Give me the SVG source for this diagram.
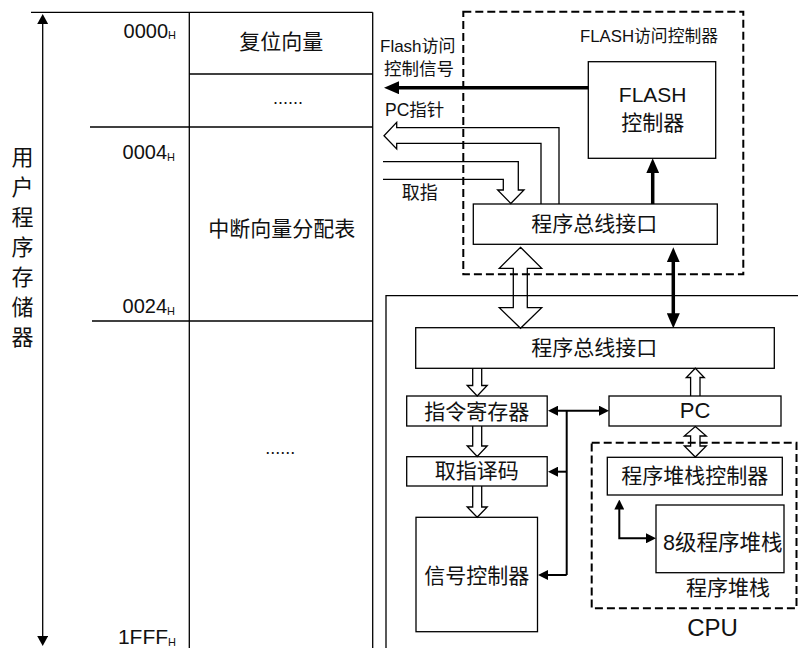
<svg xmlns="http://www.w3.org/2000/svg" width="798" height="648" viewBox="0 0 798 648">
<style>
text{font-family:"Liberation Sans","Noto Sans CJK SC",sans-serif;fill:#111}
.c{text-anchor:middle}
.e{text-anchor:end}
.ln{stroke:#000;stroke-width:1.3;fill:none}
.box{stroke:#000;stroke-width:1.3;fill:#fff}
.dash{stroke:#000;stroke-width:2;fill:none;stroke-dasharray:8 4}
.hol{stroke:#000;stroke-width:1.3;fill:none;stroke-linejoin:miter}
.thin{stroke:#000;stroke-width:2;fill:none}
.thick{stroke:#000;stroke-width:3.5;fill:none}
.f21{font-size:21px}
</style>
<defs>
<marker id="hs" viewBox="0 0 10 10" markerWidth="10" markerHeight="10" refX="2" refY="5" orient="auto-start-reverse" markerUnits="userSpaceOnUse"><path d="M0,0 L10,5 L0,10 Z" fill="#000"/></marker>
<marker id="hb" viewBox="0 0 15 13" markerWidth="15" markerHeight="13" refX="2" refY="6.5" orient="auto-start-reverse" markerUnits="userSpaceOnUse"><path d="M0,0 L15,6.5 L0,13 Z" fill="#000"/></marker>
<marker id="ha" viewBox="0 0 10 11" markerWidth="10" markerHeight="11" refX="2" refY="5.5" orient="auto-start-reverse" markerUnits="userSpaceOnUse"><path d="M0,0 L10,5.5 L0,11 Z" fill="#000"/></marker>
</defs>

<g id="memory">
<line class="ln" x1="31" y1="12.3" x2="372.7" y2="12.3"/>
<line class="ln" x1="189.3" y1="12.3" x2="189.3" y2="648"/>
<line class="ln" x1="372.7" y1="12.3" x2="372.7" y2="648"/>
<line class="ln" x1="189.3" y1="74" x2="372.7" y2="74"/>
<line class="ln" x1="90" y1="127" x2="372.7" y2="127"/>
<line class="ln" x1="92" y1="321" x2="372.7" y2="321"/>
<line class="ln" x1="42.7" y1="22" x2="42.7" y2="638" marker-start="url(#ha)" marker-end="url(#ha)"/>
<text class="e" x="176" y="37.5" font-size="20">0000<tspan font-size="11" dy="1.5">H</tspan></text>
<text class="e" x="175" y="159.3" font-size="20">0004<tspan font-size="11" dy="1.5">H</tspan></text>
<text class="e" x="175" y="313.3" font-size="20">0024<tspan font-size="11" dy="1.5">H</tspan></text>
<text class="e" x="176" y="644" font-size="21">1FFF<tspan font-size="11" dy="1.5">H</tspan></text>
<text class="c f21" x="281.3" y="48.5">复位向量</text>
<text class="c" x="288" y="104" font-size="18">......</text>
<text class="c f21" x="281.7" y="236">中断向量分配表</text>
<text class="c" x="280.3" y="453.5" font-size="18">......</text>
<g font-size="22" class="c">
<text class="c" x="22.5" y="165">用</text>
<text class="c" x="22.5" y="195">户</text>
<text class="c" x="22.5" y="225">程</text>
<text class="c" x="22.5" y="255">序</text>
<text class="c" x="22.5" y="285">存</text>
<text class="c" x="22.5" y="315">储</text>
<text class="c" x="22.5" y="345">器</text>
</g>
</g>

<g id="flash-access-controller">
<rect class="dash" x="463.3" y="11.7" width="280" height="262.6"/>
<text x="580" y="41.5" font-size="16.8">FLASH访问控制器</text>
</g>

<g id="flash-controller">
<rect class="box" x="588.3" y="61.7" width="127.4" height="96.6"/>
<text class="c f21" x="652.7" y="101.7">FLASH</text>
<text class="c f21" x="652.7" y="129.5">控制器</text>
</g>

<g id="bus-if-top">
<rect class="box" x="473.3" y="204" width="244" height="40.3"/>
<text class="c f21" x="594.2" y="230.5">程序总线接口</text>
</g>

<g id="cpu">
<path class="ln" d="M386,648 V295.7 H798"/>
<text class="c" x="712.5" y="636" font-size="24">CPU</text>
</g>

<g id="bus-if-cpu">
<rect class="box" x="415.7" y="327.7" width="358.6" height="40.6"/>
<text class="c f21" x="594.2" y="355">程序总线接口</text>
</g>

<g id="ir">
<rect class="box" x="406.7" y="396" width="140.5" height="30"/>
<text class="c f21" x="476.7" y="419">指令寄存器</text>
</g>

<g id="decode">
<rect class="box" x="406.7" y="456.7" width="140.5" height="29.3"/>
<text class="c f21" x="476.7" y="478">取指译码</text>
</g>

<g id="signal-ctrl">
<rect class="box" x="416" y="517.3" width="121.5" height="114.4"/>
<text class="c f21" x="476.7" y="582.5">信号控制器</text>
</g>

<g id="pc">
<rect class="box" x="609" y="396" width="172" height="30"/>
<text class="c" x="695" y="418.3" font-size="22">PC</text>
</g>

<g id="stack-group">
<rect class="dash" x="591.7" y="442.7" width="204.8" height="165.6"/>
<text class="c f21" x="728" y="595">程序堆栈</text>
</g>

<g id="stack-ctrl">
<rect class="box" x="607.3" y="457.3" width="175" height="37.7"/>
<text class="c f21" x="694.8" y="483">程序堆栈控制器</text>
</g>

<g id="stack8">
<rect class="box" x="656" y="505" width="128" height="67.7"/>
<text class="c" x="722.7" y="550" font-size="21.5">8级程序堆栈</text>
</g>

<g id="labels">
<text x="380" y="52" font-size="17">Flash访问</text>
<text x="384" y="75" font-size="17.5">控制信号</text>
<text x="385" y="116" font-size="17.5">PC指针</text>
<text x="401.7" y="199" font-size="18">取指</text>
</g>

<g id="connectors">
<line class="thick" x1="588.3" y1="87.7" x2="397" y2="87.7" marker-end="url(#hb)"/>
<line class="thick" x1="652.7" y1="204" x2="652.7" y2="171.3" marker-end="url(#hb)"/>
<line class="thick" x1="673.3" y1="260.3" x2="673.3" y2="315.3" marker-start="url(#hb)" marker-end="url(#hb)"/>
<path class="hol" d="M559,204 V127.7 H396.7 V122.3 L384,135.7 L396.7,149 V143.3 H541 V204"/>
<path class="hol" d="M383,161.7 H518.3 V190 H524 L510.8,203.5 L497.6,190 H503.3 V179.3 H383"/>
<path class="hol" d="M520.5,247.3 L541.7,268.3 H527.3 V307.7 H541.7 L520.5,328.3 L499.3,307.7 H513.3 V268.3 H499.3 Z"/>
<path class="hol" d="M472.7,368.3 V385.5 H467.2 L477.2,396 L487.2,385.5 H481.7 V368.3"/>
<path class="hol" d="M472.7,426 V446 H467.2 L477.2,456.5 L487.2,446 H481.7 V426"/>
<path class="hol" d="M472.7,486 V507 H467.2 L477.2,517.3 L487.2,507 H481.7 V486"/>
<path class="hol" d="M690.6,396 V377.5 H686.3 L695.3,368.3 L704.3,377.5 H700 V396"/>
<path class="hol" d="M695.3,426.5 L706.3,436 H700 V446 H706.3 L695.3,457 L684.3,446 H690.6 V436 H684.3 Z"/>
<line class="thin" x1="566.7" y1="410.7" x2="566.7" y2="575"/>
<line class="thin" x1="556" y1="410.7" x2="601" y2="410.7" marker-start="url(#hs)" marker-end="url(#hs)"/>
<line class="thin" x1="566.7" y1="471.7" x2="556" y2="471.7" marker-end="url(#hs)"/>
<line class="thin" x1="566.7" y1="575" x2="546" y2="575" marker-end="url(#hs)"/>
<path class="thin" d="M619.3,507.5 V538.3 H648" marker-start="url(#hs)" marker-end="url(#hs)"/>
</g>
</svg>
